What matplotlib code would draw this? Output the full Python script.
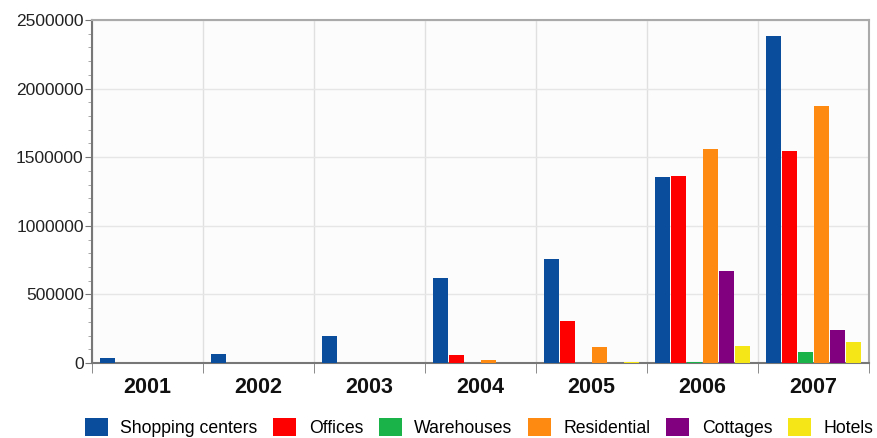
import numpy as np
import matplotlib.pyplot as plt
from matplotlib.ticker import MultipleLocator, StrMethodFormatter

plt.rcParams['font.family'] = ['Liberation Sans', 'DejaVu Sans']

years = ['2001', '2002', '2003', '2004', '2005', '2006', '2007']
series = ['Shopping centers', 'Offices', 'Warehouses', 'Residential', 'Cottages', 'Hotels']
shopping = [38000, 65000, 197000, 620000, 758000, 1355000, 2383000]
offices = [0, 0, 0, 62000, 306000, 1362000, 1545000]
warehouses = [0, 0, 0, 0, 0, 4000, 78000]
residential = [0, 0, 0, 20000, 117000, 1560000, 1873000]
cottages = [0, 0, 0, 0, 0, 670000, 240000]
hotels = [0, 0, 0, 0, 6000, 124000, 153000]
colors = ['#0a4d9c', '#ff0000', '#1ab34a', '#ff8a12', '#800080', '#f5e617']

values = [shopping, offices, warehouses, residential, cottages, hotels]

fig = plt.figure(figsize=(8.78, 4.38), dpi=100)
ax = fig.add_axes([0.1048, 0.1712, 0.885, 0.7831])
ax.set_facecolor('#fcfcfc')

x = np.arange(len(years))
step = 0.144
for i, (name, vals, c) in enumerate(zip(series, values, colors)):
    ax.bar(x + (i - 2.5) * step, vals, width=step * 0.93, color=c, label=name, zorder=3)

ax.set_xlim(-0.5, len(years) - 0.5)
ax.set_ylim(0, 2500000)
ax.set_xticks(x)
ax.set_xticklabels(years, fontsize=15.5, fontweight='bold', color='#111111')
ax.set_xticks(np.arange(len(years) + 1) - 0.5, minor=True)
ax.tick_params(axis='x', which='major', length=0, pad=10)
ax.tick_params(axis='x', which='minor', length=7, color='#777777')

ax.yaxis.set_major_locator(MultipleLocator(500000))
ax.yaxis.set_minor_locator(MultipleLocator(100000))
ax.yaxis.set_major_formatter(StrMethodFormatter('{x:.0f}'))
ax.tick_params(axis='y', which='major', length=5, color='#777777', labelsize=12.5, labelcolor='#222222', pad=1)
ax.tick_params(axis='y', which='minor', length=3, color='#999999')

ax.grid(axis='y', which='major', color='#e6e6e6', linewidth=1, zorder=0)
ax.grid(axis='x', which='minor', color='#e0e0e0', linewidth=1, zorder=0)

for s in ['left', 'bottom']:
    ax.spines[s].set_color('#777777')
    ax.spines[s].set_linewidth(1.5)
for s in ['top', 'right']:
    ax.spines[s].set_color('#aaaaaa')
    ax.spines[s].set_linewidth(1.5)

fig.legend(loc='lower left', bbox_to_anchor=(85 / 878, 1 / 438), ncol=6, frameon=False,
           fontsize=12.7, handlelength=1.3, handleheight=1.25, handletextpad=0.7,
           columnspacing=0.9, borderpad=0, borderaxespad=0)

fig.savefig('out.png', dpi=100)
